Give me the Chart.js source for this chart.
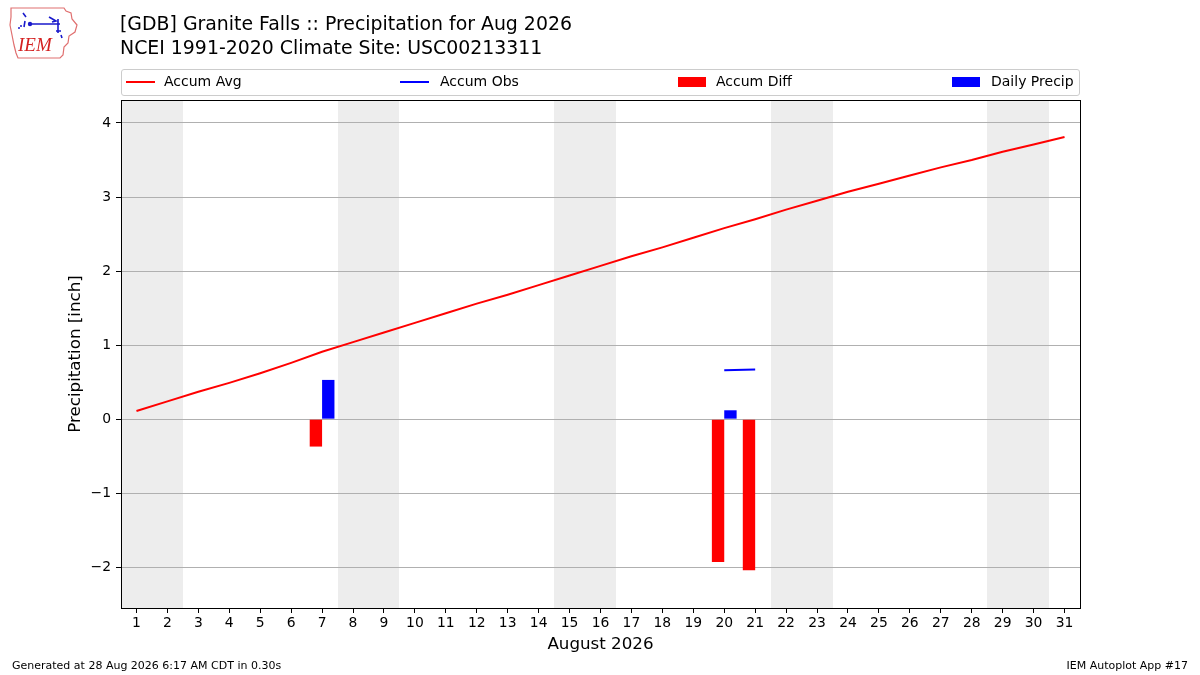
<!DOCTYPE html>
<html>
<head>
<meta charset="utf-8">
<script src="https://cdn.jsdelivr.net/npm/chart.js@4"></script>
<style>
    body { margin: 0; background: #fff; font-family: "DejaVu Sans", sans-serif; }
    #page { position: relative; width: 1200px; height: 675px; overflow: hidden; }
    #chartBox { position: absolute; left: 0; top: 0; width: 1200px; height: 675px; }
    .title { position: absolute; left: 120px; font-size: 18.9px; color: #000; white-space: nowrap; line-height: 1; }
    #legend { position: absolute; left: 121px; top: 69px; width: 957px; height: 25px; border: 1px solid #ccc; border-radius: 3px; background: rgba(255,255,255,0.8); }
    .lg-line { position: absolute; top: 11px; width: 29px; height: 2px; }
    .lg-box { position: absolute; top: 7px; width: 28px; height: 10px; }
    .lg-text { position: absolute; top: 4px; font-size: 14px; line-height: 1; white-space: nowrap; color: #000; }
    .foot { position: absolute; top: 659px; font-size: 11px; color: #000; white-space: nowrap; }
</style>
</head>
<body>
<div id="page">
    <div id="chartBox"><canvas id="precipChart"></canvas></div>

    <!-- IEM logo -->
    <svg style="position:absolute;left:6px;top:5px" width="76" height="56" viewBox="0 0 76 56">
        <path d="M5 3 L58 3 L60 6 L65 8 L66 14 L71 20 L69 27 L63 31 L62 38 L58 42 L57 50 L54 53 L12 53 L10 48 L8 40 L6 30 L4 20 L5 12 Z"
              fill="none" stroke="#e07070" stroke-width="1.2"/>
        <path d="M17 8 L20 12 M19 16 L18 22 M24 19 L54 19 M43 12 L50 16 L46 17 M52 14 L52 28 M50 26 L55 26 M55 30 L56 33"
              fill="none" stroke="#1a1acc" stroke-width="1.6"/>
        <circle cx="24" cy="19" r="2.2" fill="#1a1acc"/>
        <circle cx="15" cy="21" r="1" fill="#1a1acc"/>
        <circle cx="13" cy="23" r="1" fill="#1a1acc"/>
        <text x="12" y="46" font-family="Liberation Serif, serif" font-style="italic" font-size="19" fill="#d42020">IEM</text>
    </svg>

    <div class="title" style="top:14px">[GDB] Granite Falls :: Precipitation for Aug 2026</div>
    <div class="title" style="top:38px">NCEI 1991-2020 Climate Site: USC00213311</div>

    <div id="legend">
        <div class="lg-line" style="left:4px;background:#f00"></div>
        <div class="lg-text" style="left:42px">Accum Avg</div>
        <div class="lg-line" style="left:278px;background:#00f"></div>
        <div class="lg-text" style="left:318px">Accum Obs</div>
        <div class="lg-box" style="left:556px;background:#f00"></div>
        <div class="lg-text" style="left:594px">Accum Diff</div>
        <div class="lg-box" style="left:830px;background:#00f"></div>
        <div class="lg-text" style="left:869px">Daily Precip</div>
    </div>

    <div class="foot" style="left:12px">Generated at 28 Aug 2026 6:17 AM CDT in 0.30s</div>
    <div class="foot" style="right:12px">IEM Autoplot App #17</div>
</div>

<script>
// Chart data
const dayLabels = ['1', '2', '3', '4', '5', '6', '7', '8', '9', '10', '11', '12', '13', '14', '15', '16',
    '17', '18', '19', '20', '21', '22', '23', '24', '25', '26', '27', '28', '29', '30', '31'];
const accumAvg = [0.11, 0.24, 0.37, 0.49, 0.62, 0.76, 0.91, 1.04, 1.17, 1.30, 1.43, 1.56, 1.68, 1.81, 1.94, 2.07,
    2.20, 2.32, 2.45, 2.58, 2.70, 2.83, 2.95, 3.07, 3.18, 3.29, 3.40, 3.50, 3.61, 3.71, 3.81];
const accumObs = [null, null, null, null, null, null, null, null, null, null, null, null, null, null, null, null,
    null, null, null, 0.66, 0.67, null, null, null, null, null, null, null, null, null, null];
const accumDiff = [null, null, null, null, null, null, -0.37, null, null, null, null, null, null, null, null, null,
    null, null, null, -1.93, -2.04, null, null, null, null, null, null, null, null, null, null];
const dailyPrecip = [null, null, null, null, null, null, 0.53, null, null, null, null, null, null, null, null, null,
    null, null, null, 0.12, null, null, null, null, null, null, null, null, null, null, null];
// Saturday/Sunday pairs
const weekends = [['1', '2'], ['8', '9'], ['15', '16'], ['22', '23'], ['29', '30']];
const yTicks = [-2, -1, 0, 1, 2, 3, 4];

// Weekend shading, drawn under the grid
const weekendPlugin = {
    id: 'weekendShade',
    beforeDraw(chart) {
        const ctx = chart.ctx;
        const area = chart.chartArea;
        const x = chart.scales.x;
        const half = (x.getPixelForValue(1) - x.getPixelForValue(0)) / 2;
        ctx.save();
        ctx.fillStyle = '#fff';
        ctx.fillRect(0, 0, chart.width, chart.height);
        ctx.fillStyle = '#ededed';
        weekends.forEach(([start, end]) => {
            const x0 = Math.round(x.getPixelForValue(dayLabels.indexOf(start)) - half);
            const x1 = Math.round(x.getPixelForValue(dayLabels.indexOf(end)) + half);
            ctx.fillRect(x0, area.top, x1 - x0, area.bottom - area.top);
        });
        ctx.restore();
    },
    afterDraw(chart) {
        const ctx = chart.ctx;
        const a = chart.chartArea;
        ctx.save();
        ctx.strokeStyle = '#000';
        ctx.lineWidth = 1;
        ctx.strokeRect(Math.round(a.left) + 0.5, Math.round(a.top) + 0.5,
            Math.round(a.right - a.left), Math.round(a.bottom - a.top));
        ctx.restore();
    }
};

const tickFont = { family: 'DejaVu Sans', size: 13.9 };
const titleFont = { family: 'DejaVu Sans', size: 16.7 };

new Chart(document.getElementById('precipChart'), {
    type: 'bar',
    data: {
        labels: dayLabels,
        datasets: [{
            type: 'line',
            label: 'Accum Avg',
            data: accumAvg,
            borderColor: '#ff0000',
            borderWidth: 2,
            pointRadius: 0,
            tension: 0
        }, {
            type: 'line',
            label: 'Accum Obs',
            data: accumObs,
            borderColor: '#0000ff',
            borderWidth: 2,
            pointRadius: 0,
            spanGaps: false
        }, {
            label: 'Accum Diff',
            data: accumDiff,
            backgroundColor: '#ff0000',
            categoryPercentage: 0.8,
            barPercentage: 1.0
        }, {
            label: 'Daily Precip',
            data: dailyPrecip,
            backgroundColor: '#0000ff',
            categoryPercentage: 0.8,
            barPercentage: 1.0
        }]
    },
    options: {
        responsive: true,
        maintainAspectRatio: false,
        animation: false,
        devicePixelRatio: 1,
        layout: { padding: { left: 62, top: 100, right: 120, bottom: 17 } },
        plugins: {
            legend: { display: false },
            tooltip: { enabled: false }
        },
        scales: {
            x: {
                offset: true,
                afterFit: scale => { scale.height = 50; },
                grid: { display: true, drawOnChartArea: false, offset: false, tickLength: 5, tickColor: '#000' },
                border: { display: true, color: '#000' },
                ticks: { font: tickFont, color: '#000', padding: 2, maxRotation: 0, autoSkip: false },
                title: { display: true, text: 'August 2026', font: titleFont, color: '#000', padding: { top: 2, bottom: 3 } }
            },
            y: {
                min: -2.55,
                max: 4.31,
                afterFit: scale => { scale.width = 59; },
                afterBuildTicks: scale => { scale.ticks = yTicks.map(v => ({ value: v })); },
                grid: { color: '#b0b0b0', lineWidth: 1, tickLength: 5, tickColor: '#000' },
                border: { display: true, color: '#000' },
                ticks: {
                    font: tickFont,
                    color: '#000',
                    padding: 5,
                    callback: value => String(value).replace('-', '\u2212')
                },
                title: { display: true, text: 'Precipitation [inch]', font: titleFont, color: '#000', padding: { top: 4, bottom: 4 } }
            }
        }
    },
    plugins: [weekendPlugin]
});
</script>
</body>
</html>
